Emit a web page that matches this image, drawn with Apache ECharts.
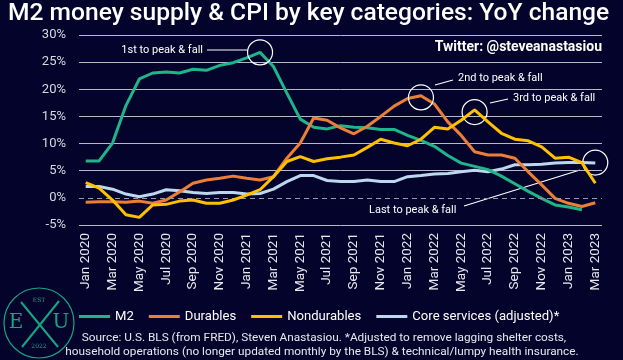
<!DOCTYPE html>
<html>
<head>
<meta charset="utf-8">
<script src="https://cdn.jsdelivr.net/npm/echarts@6/dist/echarts.min.js"></script>
<style>
html,body{margin:0;padding:0;background:#03032b;}
#c{width:623px;height:360px;}
</style>
</head>
<body>
<div id="c"></div>
<script>
const categories = ['Jan 2020','Feb 2020','Mar 2020','Apr 2020','May 2020','Jun 2020','Jul 2020','Aug 2020','Sep 2020','Oct 2020','Nov 2020','Dec 2020',
 'Jan 2021','Feb 2021','Mar 2021','Apr 2021','May 2021','Jun 2021','Jul 2021','Aug 2021','Sep 2021','Oct 2021','Nov 2021','Dec 2021',
 'Jan 2022','Feb 2022','Mar 2022','Apr 2022','May 2022','Jun 2022','Jul 2022','Aug 2022','Sep 2022','Oct 2022','Nov 2022','Dec 2022',
 'Jan 2023','Feb 2023','Mar 2023'];
const m2 = [6.8,6.8,10.1,17.0,21.9,23.0,23.2,23.0,23.7,23.5,24.4,24.9,25.8,26.8,24.2,19.3,14.5,13.0,12.7,13.3,13.0,12.9,12.6,12.6,11.5,10.6,9.5,7.8,6.4,5.8,5.2,4.0,2.6,1.2,-0.1,-1.3,-1.7,-2.2,null];
const durables = [-0.8,-0.7,-0.7,-0.8,-0.6,-1.0,-0.4,1.1,2.7,3.3,3.6,4.0,3.6,3.3,3.9,7.3,10.1,14.7,14.3,12.9,11.8,13.2,15.0,16.9,18.3,18.8,17.3,14.0,11.5,8.5,7.9,7.9,7.3,4.8,2.4,-0.1,-1.0,-1.6,-0.9];
const nondurables = [2.8,1.8,-0.4,-3.1,-3.6,-1.3,-1.2,-0.6,-0.4,-1.0,-1.0,-0.4,0.5,1.5,3.9,6.7,7.6,6.7,7.2,7.5,7.9,9.3,10.8,10.1,9.6,10.8,13.0,12.7,14.3,16.2,14.0,11.9,10.8,10.5,9.4,7.3,7.5,6.5,2.7];
const coreServices = [2.1,2.1,1.6,0.7,0.2,0.7,1.5,1.3,1.0,0.8,1.0,1.0,0.7,0.8,1.6,3.0,4.1,4.1,3.2,3.0,3.0,3.3,3.0,3.0,3.9,4.1,4.4,4.5,4.8,5.1,4.8,5.3,6.1,6.1,6.2,6.4,6.5,6.5,6.4];
const yTicks = [-5,0,5,10,15,20,25,30];

const colors = {m2:'#1db589', dur:'#ec7f36', non:'#ffc000', core:'#bdd7ee'};
const FONT = 'Roboto';

function circleMark(idx, val){
  return {
    symbol:'circle', symbolSize:25, silent:true,
    itemStyle:{color:'rgba(0,0,0,0)', borderColor:'#ffffff', borderWidth:1.2},
    label:{show:false},
    data:[{coord:[idx, val]}]
  };
}

const option = {
  backgroundColor:'#03032b',
  animation:false,
  textStyle:{fontFamily:FONT},
  grid:{left:79, right:21, top:35, height:190, containLabel:false},
  xAxis:{
    type:'category', data:categories, boundaryGap:true,
    axisLine:{show:false}, axisTick:{show:false},
    axisLabel:{interval:1, rotate:90, color:'#e8e8ee', fontSize:13.5, fontFamily:FONT, margin:8}
  },
  yAxis:{
    type:'value', min:-5, max:30, interval:5,
    axisLine:{show:false}, axisTick:{show:false},
    axisLabel:{formatter:v=>v+'%', color:'#d8d8e0', fontSize:13, fontFamily:FONT, margin:13},
    splitLine:{show:true, lineStyle:{color:yTicks.map(t=> t===0 ? 'rgba(0,0,0,0)' : '#b9b9c4'), width:1}}
  },
  legend:{
    bottom:32, left:74, icon:'rect', itemWidth:31, itemHeight:3, itemGap:15, itemStyle:{borderWidth:0},
    textStyle:{color:'#ffffff', fontSize:13.1, fontFamily:FONT},
    data:['M2','Durables','Nondurables','Core services (adjusted)*']
  },
  series:[
    {name:'Core services (adjusted)*', type:'line', data:coreServices, symbol:'none', z:2,
     lineStyle:{color:colors.core, width:3}, itemStyle:{color:colors.core},
     markLine:{silent:true, symbol:'none', label:{show:false},
       lineStyle:{color:'#9a9aa8', type:[5,4], width:1.2}, data:[{yAxis:0}]},
     markPoint:circleMark(38, 6.5)},
    {name:'M2', type:'line', data:m2, symbol:'none', z:3,
     lineStyle:{color:colors.m2, width:3}, itemStyle:{color:colors.m2},
     markPoint:circleMark(13, 26.8)},
    {name:'Durables', type:'line', data:durables, symbol:'none', z:4,
     lineStyle:{color:colors.dur, width:3}, itemStyle:{color:colors.dur},
     markPoint:circleMark(25, 18.5)},
    {name:'Nondurables', type:'line', data:nondurables, symbol:'none', z:5,
     lineStyle:{color:colors.non, width:3}, itemStyle:{color:colors.non},
     markPoint:circleMark(29, 15.8)}
  ],
  graphic:[
    {type:'text', left:8, top:1, style:{text:'M2 money supply & CPI by key categories: YoY change', fill:'#ffffff', font:'500 24.6px '+FONT}},
    {type:'text', right:21, top:40, style:{text:'Twitter: @steveanastasiou', fill:'#ffffff', font:'bold 14px '+FONT, align:'right'}},
    // annotations
    {type:'text', x:203, y:50, style:{text:'1st to peak & fall', fill:'#ffffff', font:'11px '+FONT, align:'right', verticalAlign:'middle'}},
    {type:'line', shape:{x1:207, y1:50, x2:247, y2:50}, style:{stroke:'#ffffff', lineWidth:1.2}},
    {type:'text', x:458, y:78, style:{text:'2nd to peak & fall', fill:'#ffffff', font:'11px '+FONT, align:'left', verticalAlign:'middle'}},
    {type:'line', shape:{x1:453, y1:80, x2:435, y2:85}, style:{stroke:'#ffffff', lineWidth:1.2}},
    {type:'text', x:513, y:98, style:{text:'3rd to peak & fall', fill:'#ffffff', font:'11px '+FONT, align:'left', verticalAlign:'middle'}},
    {type:'line', shape:{x1:508, y1:99, x2:490, y2:103}, style:{stroke:'#ffffff', lineWidth:1.2}},
    {type:'text', x:369, y:210, style:{text:'Last to peak & fall', fill:'#ffffff', font:'11px '+FONT, align:'left', verticalAlign:'middle'}},
    {type:'line', shape:{x1:464, y1:206, x2:580, y2:170}, style:{stroke:'#ffffff', lineWidth:1.2}},
    // source
    {type:'text', x:324, y:338, style:{text:'Source: U.S. BLS (from FRED), Steven Anastasiou. *Adjusted to remove lagging shelter costs,', fill:'#e8e8ee', font:'11.8px '+FONT, align:'center', verticalAlign:'middle'}},
    {type:'text', x:322, y:352, style:{text:'household operations (no longer updated monthly by the BLS) & technical/lumpy health insurance.', fill:'#e8e8ee', font:'11.8px '+FONT, align:'center', verticalAlign:'middle'}},
    // logo
    {type:'circle', shape:{cx:39, cy:323, r:35}, style:{fill:'none', stroke:'#16a583', lineWidth:1.2}},
    {type:'line', shape:{x1:21, y1:302, x2:58, y2:347}, style:{stroke:'#16a583', lineWidth:2}},
    {type:'line', shape:{x1:59, y1:301, x2:22, y2:347}, style:{stroke:'#16a583', lineWidth:2}},
    {type:'text', x:16, y:323, style:{text:'E', fill:'#16a583', font:'20px "DejaVu Serif", serif', align:'center', verticalAlign:'middle'}},
    {type:'text', x:61, y:323, style:{text:'U', fill:'#16a583', font:'20px "DejaVu Serif", serif', align:'center', verticalAlign:'middle'}},
    {type:'text', x:39, y:300, style:{text:'EST', fill:'#16a583', font:'6px "DejaVu Serif", serif', align:'center', verticalAlign:'middle'}},
    {type:'text', x:39, y:346, style:{text:'2022', fill:'#16a583', font:'6px "DejaVu Serif", serif', align:'center', verticalAlign:'middle'}}
  ]
};

const chart = echarts.init(document.getElementById('c'), null, {renderer:'canvas'});
chart.setOption(option);
</script>
</body>
</html>
